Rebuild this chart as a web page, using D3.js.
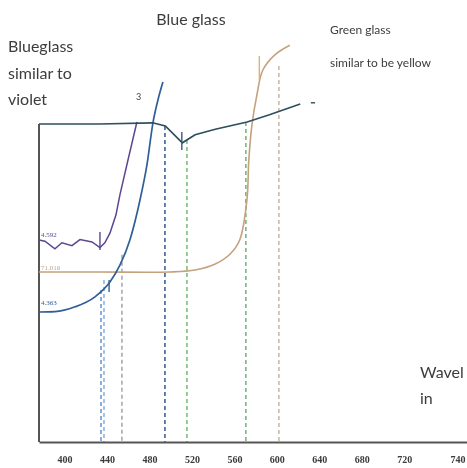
<!DOCTYPE html>
<html>
<head>
<meta charset="utf-8">
<script src="https://cdn.jsdelivr.net/npm/d3@7"></script>
<style>
  body { margin: 0; background: #fff; }
  svg { display: block; }
</style>
</head>
<body>
<div id="chart"></div>
<script>
// Wavelength (nm) on x, arbitrary absorbance on y (no y ticks in the original)
var tickValues = [400, 440, 480, 520, 560, 600, 640, 680, 720, 770];
var tickLabels = ["400", "440", "480", "520", "560", "600", "640", "680", "720", "740"];

// dark curve across the top
var darkWl  = [376, 433, 483, 495, 511, 523, 542, 572, 593, 622];
var darkVal = [79.5, 79.5, 79.8, 79, 74.8, 76.8, 78.2, 80, 81.8, 84.5];

// "Blue glass similar to violet"
var violetWl  = [376, 381.6, 391, 397.6, 407, 414.6, 425.9, 433.4, 438, 442.8, 448.5, 452.2, 459.8, 468.2];
var violetVal = [50.5, 50.2, 48.3, 49.8, 49.1, 50.6, 50, 48.6, 49.8, 52.2, 56.8, 61.8, 70.5, 80];

// "Blue glass"
var blueWl  = [376, 391, 410, 428.7, 442.8, 452.2, 461.6, 471.1, 477.6, 483.3, 488, 492.7];
var blueVal = [32.5, 32.6, 33.8, 36.3, 40, 44.2, 50.5, 60.5, 69.2, 79.8, 85.5, 90];

// "Green glass similar to be yellow"
var greenWl  = [376, 433, 499, 523, 542, 556, 565, 571.8, 573.6, 576.5, 581.2, 586.8, 598.1, 612.2];
var greenVal = [42.5, 42.5, 42.5, 43, 44.5, 47, 50.5, 60.5, 70.5, 79.2, 86.8, 93, 96.8, 99.2];

// dashed drop lines: wavelength, top value
var dropWl    = [434.4, 437.2, 454.1, 494.6, 515.3, 570.8, 601.9];
var dropTop   = [38, 40.5, 46.8, 79, 75.5, 80, 94];
var dropColor = ["#6a9ad6", "#8fb4e0", "#a8a8b0", "#40609a", "#7cc07c", "#78b878", "#c8bca8"];

// start labels on the left edge
var startLabels = ["4.592", "71.016", "4.363"];

var main = function () {
    "use strict";
    var width = 467, height = 468;

    var svg = d3.select("#chart").append("svg")
        .attr("width", width)
        .attr("height", height);

    var x = d3.scaleLinear().domain([376, 780]).range([39, 468]);
    var y = d3.scaleLinear().domain([0, 100]).range([442, 42]);

    var soft = svg.append("defs").append("filter").attr("id", "soft");
    soft.append("feGaussianBlur").attr("stdDeviation", 0.4);

    var g = svg.append("g").attr("filter", "url(#soft)");

    // dashed drop lines
    dropWl.forEach(function (w, i) {
        g.append("line")
            .attr("x1", x(w)).attr("x2", x(w))
            .attr("y1", y(dropTop[i])).attr("y2", y(0))
            .attr("stroke", dropColor[i])
            .attr("stroke-width", 1.6)
            .attr("stroke-dasharray", "4,3");
    });

    // axes
    g.append("line")
        .attr("x1", x(376)).attr("x2", x(376))
        .attr("y1", y(79.5)).attr("y2", y(0))
        .attr("stroke", "#555").attr("stroke-width", 2);

    var xAxis = g.append("g")
        .attr("transform", "translate(0," + y(0) + ")")
        .call(d3.axisBottom(x)
            .tickValues(tickValues)
            .tickSize(0)
            .tickPadding(14)
            .tickFormat(function (d, i) { return tickLabels[i]; }));
    xAxis.select(".domain").attr("stroke", "#555").attr("stroke-width", 2);
    xAxis.selectAll("text")
        .attr("font-family", "Liberation Serif, serif")
        .attr("font-weight", "bold")
        .attr("font-size", 10)
        .attr("fill", "#3a3a3a");

    var line = d3.line()
        .x(function (d) { return x(d[0]); })
        .y(function (d) { return y(d[1]); });

    function drawCurve(wl, vals, color, width, curve) {
        var pts = wl.map(function (w, i) { return [w, vals[i]]; });
        g.append("path")
            .datum(pts)
            .attr("fill", "none")
            .attr("stroke", color)
            .attr("stroke-width", width)
            .attr("d", line.curve(curve)(pts));
    }

    drawCurve(greenWl, greenVal, "#c4a27e", 1.6, d3.curveCatmullRom);
    drawCurve(violetWl, violetVal, "#5c4690", 1.5, d3.curveLinear);
    drawCurve(blueWl, blueVal, "#2f5f98", 1.7, d3.curveMonotoneX);
    drawCurve(darkWl, darkVal, "#2f4f5c", 1.7, d3.curveLinear);

    // little dash trailing the dark curve
    g.append("line")
        .attr("x1", x(632)).attr("x2", x(636))
        .attr("y1", y(84.8)).attr("y2", y(84.8))
        .attr("stroke", "#2f4f5c").attr("stroke-width", 1.4);

    // short vertical markers on the curves
    var markWl  = [433.4, 442, 510.5, 583.5];
    var markLo  = [48, 37.5, 73, 90.5];
    var markHi  = [52.5, 40.5, 77.5, 96.5];
    var markCol = ["#5c4690", "#2f5f98", "#2f5f7c", "#e0b070"];
    markWl.forEach(function (w, i) {
        g.append("line")
            .attr("x1", x(w)).attr("x2", x(w))
            .attr("y1", y(markHi[i])).attr("y2", y(markLo[i]))
            .attr("stroke", markCol[i]).attr("stroke-width", 1.4);
    });

    // start labels
    var startVals = [violetVal[0] + 0.8, greenVal[0] + 0.5, blueVal[0] + 1.8];
    var startCols = ["#5c4690", "#c4a27e", "#2f5f98"];
    startLabels.forEach(function (t, i) {
        g.append("text")
            .attr("x", x(376) + 2).attr("y", y(startVals[i]))
            .attr("font-family", "Liberation Serif, serif")
            .attr("font-size", 7)
            .attr("fill", startCols[i])
            .text(t);
    });

    g.append("text").attr("x", 136).attr("y", 100)
        .attr("font-family", "Lato, sans-serif").attr("font-size", 9)
        .attr("fill", "#444").text("3");

    // annotations
    var txt = function (tx, ty, s, size, anchor) {
        g.append("text")
            .attr("x", tx).attr("y", ty)
            .attr("font-family", "Lato, Open Sans, sans-serif")
            .attr("font-size", size)
            .attr("fill", "#3c3c3c")
            .attr("text-anchor", anchor || "start")
            .text(s);
    };
    txt(191, 25, "Blue glass", 16, "middle");
    txt(8, 52, "Blueglass", 16);
    txt(8, 79, "similar to", 16);
    txt(8, 105, "violet", 16);
    txt(330, 34, "Green glass", 12);
    txt(330, 67, "similar to be yellow", 12);
    txt(420, 378, "Wavel", 16);
    txt(420, 404, "in", 16);
};

main();
</script>
</body>
</html>
